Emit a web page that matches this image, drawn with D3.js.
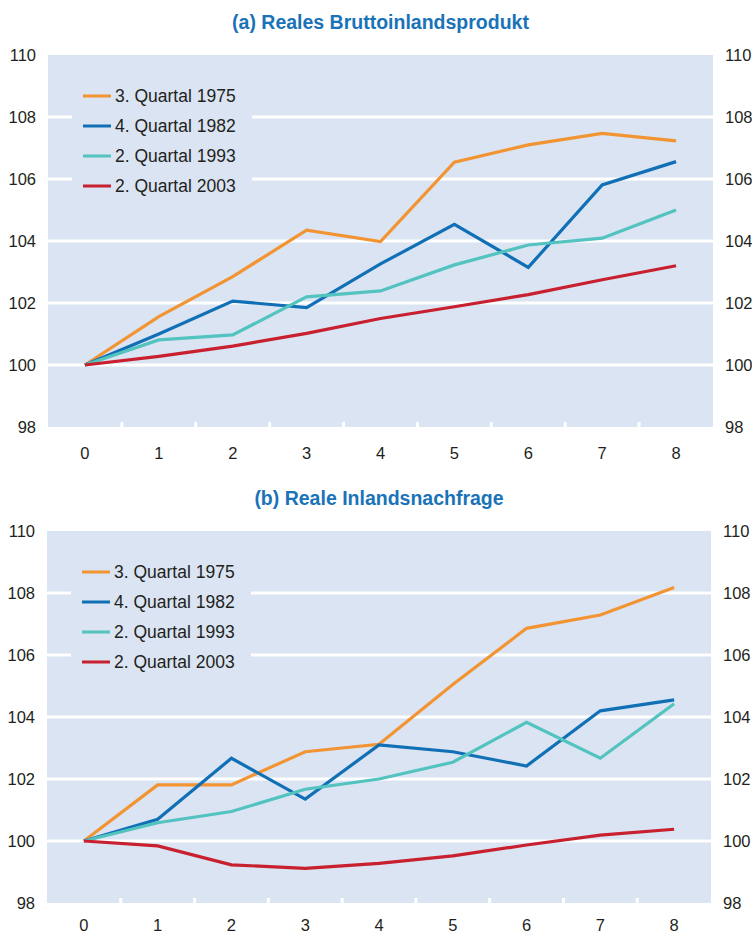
<!DOCTYPE html>
<html>
<head>
<meta charset="utf-8">
<script src="https://cdn.jsdelivr.net/npm/d3@7"></script>
<style>
body { margin: 0; background: #fff; }
svg { display: block; font-family: "Liberation Sans", Arial, sans-serif; }
</style>
</head>
<body>
<svg id="chart" width="752" height="936"></svg>
<script>
// quarters after the trough
var quarters = [0, 1, 2, 3, 4, 5, 6, 7, 8];
var yTicks = [98, 100, 102, 104, 106, 108, 110];
var seriesNames = ["3. Quartal 1975", "4. Quartal 1982", "2. Quartal 1993", "2. Quartal 2003"];
var seriesColors = ["#f39433", "#1170b5", "#52c3bf", "#c8202f"];

// (a) Reales Bruttoinlandsprodukt
var bip1975 = [100, 101.56, 102.85, 104.35, 103.98, 106.54, 107.10, 107.47, 107.23];
var bip1982 = [100, 101.0, 102.06, 101.85, 103.26, 104.54, 103.15, 105.81, 106.56];
var bip1993 = [100, 100.81, 100.97, 102.2, 102.39, 103.23, 103.87, 104.09, 105.0];
var bip2003 = [100, 100.28, 100.61, 101.02, 101.5, 101.88, 102.27, 102.75, 103.2];

// (b) Reale Inlandsnachfrage
var nach1975 = [100, 101.81, 101.81, 102.88, 103.12, 105.05, 106.86, 107.29, 108.18];
var nach1982 = [100, 100.7, 102.67, 101.35, 103.1, 102.88, 102.42, 104.2, 104.55];
var nach1993 = [100, 100.59, 100.95, 101.67, 102.0, 102.54, 103.83, 102.67, 104.43];
var nach2003 = [100, 99.84, 99.23, 99.12, 99.28, 99.52, 99.87, 100.19, 100.38];

var svg = d3.select("#chart");
var bg = "#dae4f3", textCol = "#231f20", titleCol = "#1a72b8";

function drawPanel(title, series, left, right, top, xPad) {
    var h = 372, bottom = top + h;
    var g = svg.append("g");

    var x = d3.scaleBand().domain(quarters).range([left, right]).padding(0);
    var y = d3.scaleLinear().domain([98, 110]).range([bottom, top]);

    g.append("text")
        .attr("x", (left + right) / 2)
        .attr("y", top - 33)
        .attr("text-anchor", "middle")
        .attr("dominant-baseline", "central")
        .attr("fill", titleCol)
        .attr("font-weight", "bold")
        .attr("font-size", 19.5)
        .text(title);

    g.append("rect")
        .attr("x", left).attr("y", top)
        .attr("width", right - left).attr("height", h)
        .attr("fill", bg);

    // white grid
    g.selectAll(".grid").data(yTicks.slice(1, -1)).enter().append("line")
        .attr("x1", left).attr("x2", right)
        .attr("y1", function(d) { return y(d); })
        .attr("y2", function(d) { return y(d); })
        .attr("stroke", "#fff").attr("stroke-width", 3);

    // little white marks between the quarters
    g.selectAll(".xmark").data(quarters.slice(1)).enter().append("line")
        .attr("x1", function(d) { return x(d); })
        .attr("x2", function(d) { return x(d); })
        .attr("y1", bottom).attr("y2", bottom - 5)
        .attr("stroke", "#fff").attr("stroke-width", 3);

    // axes
    var ax = g.append("g").attr("transform", "translate(0," + bottom + ")")
        .call(d3.axisBottom(x).tickSize(0).tickPadding(xPad));
    var al = g.append("g").attr("transform", "translate(" + (left - 12) + ",0)")
        .call(d3.axisLeft(y).tickValues(yTicks).tickSize(0).tickPadding(0));
    var ar = g.append("g").attr("transform", "translate(" + (right + 12) + ",0)")
        .call(d3.axisRight(y).tickValues(yTicks).tickSize(0).tickPadding(0));
    [ax, al, ar].forEach(function(a) {
        a.select(".domain").remove();
        a.selectAll("text").attr("fill", textCol).attr("font-size", 16.5)
            .style("font-family", "'Liberation Sans', Arial, sans-serif");
    });

    // legend box hides the grid behind it
    var lx = left + 24, ly = top + 20;
    g.append("rect")
        .attr("x", lx).attr("y", ly)
        .attr("width", 180).attr("height", 130)
        .attr("fill", bg);

    var line = d3.line()
        .x(function(d, i) { return x(quarters[i]) + x.bandwidth() / 2; })
        .y(function(d) { return y(d); });

    series.forEach(function(s, i) {
        g.append("path")
            .datum(s)
            .attr("d", line)
            .attr("fill", "none")
            .attr("stroke", seriesColors[i])
            .attr("stroke-width", 3.2);
    });

    seriesNames.forEach(function(n, i) {
        var yy = ly + 21 + i * 30;
        g.append("line")
            .attr("x1", lx + 11).attr("x2", lx + 39)
            .attr("y1", yy).attr("y2", yy)
            .attr("stroke", seriesColors[i]).attr("stroke-width", 3);
        g.append("text")
            .attr("x", lx + 43).attr("y", yy)
            .attr("dominant-baseline", "central")
            .attr("fill", textCol)
            .attr("font-size", 17.5)
            .text(n);
    });
}

drawPanel("(a) Reales Bruttoinlandsprodukt", [bip1975, bip1982, bip1993, bip2003], 48, 713, 55, 20);
drawPanel("(b) Reale Inlandsnachfrage", [nach1975, nach1982, nach1993, nach2003], 47, 711, 531, 16);
</script>
</body>
</html>
